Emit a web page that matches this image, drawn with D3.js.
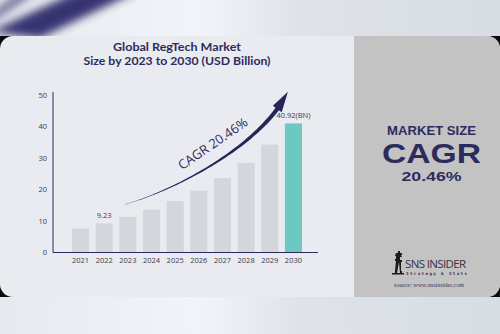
<!DOCTYPE html>
<html>
<head>
<meta charset="utf-8">
<script src="https://cdn.jsdelivr.net/npm/d3@7"></script>
<style>
  html, body { margin: 0; padding: 0; background: #ffffff; }
  svg { display: block; }
</style>
</head>
<body>
<script>
// RegTech market size, USD billion
const years = ["2021", "2022", "2023", "2024", "2025", "2026", "2027", "2028", "2029", "2030"];
const marketSize = [7.6, 9.23, 11.3, 13.6, 16.3, 19.6, 23.6, 28.4, 34.2, 40.92];
const yTicks = [0, 10, 20, 30, 40, 50];
const labelledYears = { "2022": "9.23", "2030": "40.92(BN)" };
const cagrText = "CAGR 20.46%";

const W = 500, H = 334;
const navy = "#2d2b5e";
const svg = d3.select("body").append("svg").attr("width", W).attr("height", H);
const defs = svg.append("defs");

// page backdrop
const bgGrad = defs.append("linearGradient").attr("id", "bg").attr("x1", 0).attr("x2", 1);
bgGrad.append("stop").attr("offset", 0).attr("stop-color", "#e6eaef");
bgGrad.append("stop").attr("offset", 0.4).attr("stop-color", "#f1f4f8");
bgGrad.append("stop").attr("offset", 0.6).attr("stop-color", "#dfe3e8");
bgGrad.append("stop").attr("offset", 1).attr("stop-color", "#d7dde3");
svg.append("rect").attr("width", W).attr("height", H).attr("fill", "url(#bg)");

const blur = defs.append("filter").attr("id", "soft").attr("x", -0.5).attr("y", -0.5).attr("width", 2).attr("height", 2);
blur.append("feGaussianBlur").attr("stdDeviation", 4);
svg.append("path")
  .attr("d", "M-10,32 L80,-10 L140,-10 L40,38 Z")
  .attr("fill", "#2f2c6b").attr("opacity", 0.95).attr("filter", "url(#soft)");
svg.append("path")
  .attr("d", "M-10,14 L20,-10 L40,-10 L-10,24 Z")
  .attr("fill", "#2f2c6b").attr("opacity", 0.6).attr("filter", "url(#soft)");

// card
const cardTop = 36, cardBot = 297, panelX = 354;
svg.append("rect").attr("x", 0).attr("y", cardTop).attr("width", W).attr("height", cardBot - cardTop).attr("fill", "#0a0a0a");
const clip = defs.append("clipPath").attr("id", "card");
clip.append("rect").attr("x", 0).attr("y", cardTop).attr("width", W).attr("height", cardBot - cardTop).attr("rx", 13);
const card = svg.append("g").attr("clip-path", "url(#card)");
card.append("rect").attr("x", 0).attr("y", cardTop).attr("width", W).attr("height", cardBot - cardTop).attr("fill", "#e9ebf0");
card.append("rect").attr("x", panelX).attr("y", cardTop).attr("width", W - panelX).attr("height", cardBot - cardTop).attr("fill", "#c3c3c4");

// title, two lines
const titleStyle = sel => sel.attr("text-anchor", "middle")
  .attr("font-family", "Lato, 'Open Sans', sans-serif").attr("font-weight", 700)
  .attr("font-size", 11.6).attr("fill", navy).attr("lengthAdjust", "spacingAndGlyphs");
svg.append("text").call(titleStyle).attr("x", 177).attr("y", 51.2).attr("textLength", 128).text("Global RegTech Market");
svg.append("text").call(titleStyle).attr("x", 177).attr("y", 65.1).attr("textLength", 187).text("Size by 2023 to 2030 (USD Billion)");

// scales
const x = d3.scaleBand().domain(years).range([60, 314]).paddingInner(0.28).paddingOuter(0.51);
const y = d3.scaleLinear().domain([0, 50]).range([252.5, 94.8]);
const axisX0 = 53, axisX1 = 318;

const g = svg.append("g");

// bars
g.selectAll("rect.bar").data(years).join("rect")
  .attr("class", "bar")
  .attr("x", d => x(d))
  .attr("width", x.bandwidth())
  .attr("y", (d, i) => y(marketSize[i]))
  .attr("height", (d, i) => y(0) - y(marketSize[i]))
  .attr("fill", d => d === "2030" ? "#6cc8c0" : "#d3d7dc");

// axes
g.append("line").attr("x1", axisX0).attr("x2", axisX0).attr("y1", y(50) - 3).attr("y2", y(0))
  .attr("stroke", navy).attr("stroke-width", 1);
g.append("line").attr("x1", axisX0).attr("x2", axisX1).attr("y1", y(0)).attr("y2", y(0))
  .attr("stroke", navy).attr("stroke-width", 1.2);

const yAxis = d3.axisLeft(y).tickValues(yTicks).tickSize(0).tickPadding(0);
const ya = g.append("g").attr("transform", `translate(${axisX0 - 6},0)`).call(yAxis);
ya.select(".domain").remove();
ya.selectAll("text").attr("font-family", "'Open Sans', sans-serif").attr("font-size", 7.5).attr("fill", "#3a3a4a");

const xAxis = d3.axisBottom(x).tickSize(0).tickPadding(0);
const xa = g.append("g").attr("transform", `translate(0,${y(0) + 5})`).call(xAxis);
xa.select(".domain").remove();
xa.selectAll("text").attr("font-family", "'Open Sans', sans-serif").attr("font-size", 7.5).attr("fill", "#3a3a4a");

// value labels
g.selectAll("text.val").data(years.filter(d => labelledYears[d])).join("text")
  .attr("class", "val")
  .attr("x", d => x(d) + x.bandwidth() / 2)
  .attr("y", d => y(marketSize[years.indexOf(d)]) - 5)
  .attr("text-anchor", "middle")
  .attr("font-family", "'Open Sans', sans-serif").attr("font-size", 7.5).attr("fill", "#3a3a4a")
  .text(d => labelledYears[d]);

// growth swoosh: tapering band along a cubic curve, ending in an arrowhead
const p0 = [x("2023") + 6, y(15.3)];
const p3 = [x("2030") + 3, y(50) - 3];
const p1 = [p0[0] + 50, p0[1] - 14];
const p2 = [p3[0] - 26, p3[1] + 53];
function bez(t) {
  const a = (1 - t) ** 3, b = 3 * (1 - t) ** 2 * t, c = 3 * (1 - t) * t * t, d = t ** 3;
  return [a * p0[0] + b * p1[0] + c * p2[0] + d * p3[0], a * p0[1] + b * p1[1] + c * p2[1] + d * p3[1]];
}
function tan(t) {
  const e = 0.001, q1 = bez(Math.max(0, t - e)), q2 = bez(Math.min(1, t + e));
  const dx = q2[0] - q1[0], dy = q2[1] - q1[1], L = Math.hypot(dx, dy);
  return [dx / L, dy / L];
}
const tHead = 0.89;
const upper = [], lower = [];
for (let i = 0; i <= 60; i++) {
  const t = tHead * i / 60;
  const p = bez(t), tg = tan(t), n = [tg[1], -tg[0]];
  const w = 0.15 + 2.0 * Math.pow(t / tHead, 1.4);
  upper.push([p[0] + n[0] * w, p[1] + n[1] * w]);
  lower.push([p[0] - n[0] * w, p[1] - n[1] * w]);
}
const hb = bez(tHead), ht = tan(tHead), hn = [ht[1], -ht[0]];
const hw = 5.5;
const tip = bez(1);
const swoosh = d3.path();
swoosh.moveTo(upper[0][0], upper[0][1]);
upper.forEach(p => swoosh.lineTo(p[0], p[1]));
swoosh.lineTo(hb[0] + hn[0] * hw, hb[1] + hn[1] * hw);
swoosh.lineTo(tip[0], tip[1]);
swoosh.lineTo(hb[0] - hn[0] * hw, hb[1] - hn[1] * hw);
lower.slice().reverse().forEach(p => swoosh.lineTo(p[0], p[1]));
swoosh.closePath();
g.append("path").attr("d", swoosh.toString()).attr("fill", "#27245a");

// CAGR label riding above the swoosh
const mid = bez(0.5), mt = tan(0.5);
const ang = Math.atan2(mt[1], mt[0]) * 180 / Math.PI - 2;
const up = [mt[1], -mt[0]];
const off = 13, fwd = 8;
g.append("text")
  .attr("transform", `translate(${mid[0] + up[0] * off + mt[0] * fwd},${mid[1] + up[1] * off + mt[1] * fwd}) rotate(${ang})`)
  .attr("text-anchor", "middle")
  .attr("font-family", "'Open Sans', sans-serif").attr("font-size", 13).attr("fill", navy)
  .text(cagrText);

// side panel: wide, heavy lettering
const px = 431.5;
const side = svg.append("g").attr("fill", navy).attr("text-anchor", "middle")
  .attr("font-family", "'Liberation Sans', sans-serif").attr("font-weight", 700);
side.append("text").attr("x", px).attr("y", 135).attr("font-size", 12)
  .attr("textLength", 89).attr("lengthAdjust", "spacingAndGlyphs").text("MARKET SIZE");
side.append("text").attr("x", px).attr("y", 163).attr("font-size", 28)
  .attr("textLength", 99).attr("lengthAdjust", "spacingAndGlyphs").text("CAGR");
side.append("text").attr("x", px).attr("y", 180.5).attr("font-size", 13)
  .attr("textLength", 60).attr("lengthAdjust", "spacingAndGlyphs").text("20.46%");

// brand mark
const logo = svg.append("g").attr("fill", "#1a1a1a");
logo.append("path").attr("d",
  "M396,253 h2 v-2 h2 v2 h2 v2 h-1 l1,2 h-2 v3 h2 v2 h-1 v9 h1 v2 h-2 l-1,-11 l-2,11 h-2 v-2 l1,-10 h-1 v-2 h1 v-3 h-1 Z");
logo.append("rect").attr("x", 392).attr("y", 273).attr("width", 12).attr("height", 1.5);
svg.append("text").attr("x", 405).attr("y", 268).attr("font-family", "'Open Sans', sans-serif")
  .attr("font-size", 11.5).attr("fill", "#333344").attr("textLength", 61).text("SNS INSIDER");
svg.append("text").attr("x", 406).attr("y", 274.5).attr("font-family", "'DejaVu Sans Mono', monospace")
  .attr("font-size", 4.2).attr("font-weight", 700).attr("fill", "#333344").attr("textLength", 61).text("Strategy & Stats");
svg.append("text").attr("x", 429).attr("y", 287).attr("text-anchor", "middle")
  .attr("font-family", "'Liberation Serif', serif").attr("font-size", 6).attr("fill", "#3a3a60")
  .attr("textLength", 70).text("source: www.snsinsider.com");
</script>
</body>
</html>
